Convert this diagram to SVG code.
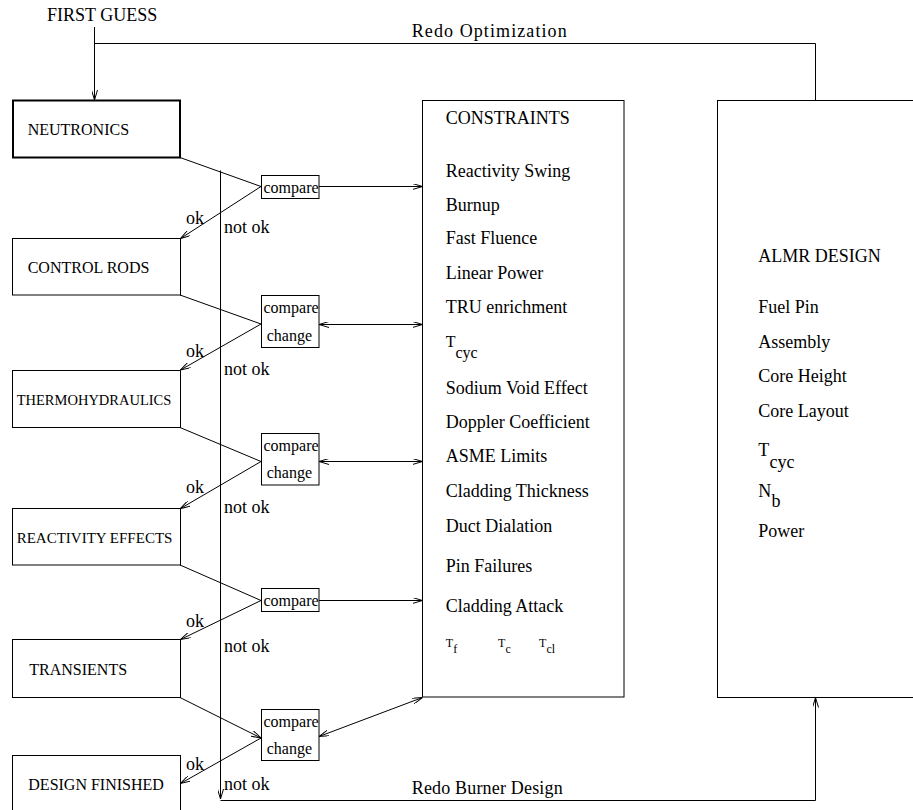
<svg xmlns="http://www.w3.org/2000/svg" width="913" height="810" viewBox="0 0 913 810" font-family="'Liberation Serif', 'Times New Roman', 'DejaVu Serif', serif">
<style>
text { font-family: "Liberation Serif", "Times New Roman", "DejaVu Serif", serif; fill: #000; }
.box { fill: #fff; stroke: #000; stroke-width: 1; }
.thick { stroke-width: 2; }
.big { font-size: 18px; }
.node { font-size: 16px; }
.cmp { font-size: 16px; }
.small { font-size: 12px; }
.ln { fill: none; stroke: #000; stroke-width: 1; }
.arr { marker-end: url(#ah); }
.dbl { marker-start: url(#ah); marker-end: url(#ah); }
</style>
<defs>
<marker id="ah" viewBox="0 0 10 6" refX="10" refY="3" markerWidth="10" markerHeight="6" markerUnits="userSpaceOnUse" orient="auto-start-reverse">
<path d="M0,0 L10,3 L0,6" fill="none" stroke="#000" stroke-width="1"/>
</marker>
</defs>
<rect width="913" height="810" fill="#fff"/>

<g id="connectors">
<path class="ln arr" d="M94.5,27 V100"/>
<path class="ln" d="M815.5,100.5 V43.5 H94.5"/>
<path class="ln arr" d="M220.5,170.5 V799"/>
<path class="ln arr" d="M220.5,800.5 H815.5 V697.5"/>
<path class="ln" d="M180,157.5 L261,186.5"/>
<path class="ln arr" d="M261,186.5 L180.5,238.5"/>
<path class="ln arr" d="M319,186.5 H422.5"/>
<path class="ln" d="M180,295 L261,324"/>
<path class="ln arr" d="M261,324 L180.5,370"/>
<path class="ln dbl" d="M319,324.5 H422.5"/>
<path class="ln" d="M180,427.5 L261,461.5"/>
<path class="ln arr" d="M261,461.5 L180.5,508.5"/>
<path class="ln dbl" d="M319,461.5 H422.5"/>
<path class="ln" d="M180,565 L261,600.5"/>
<path class="ln arr" d="M261,600.5 L180.5,639.5"/>
<path class="ln arr" d="M319,600.5 H422.5"/>
<path class="ln arr" d="M180,697.5 L261,738"/>
<path class="ln arr" d="M261,738 L180.5,783.5"/>
<path class="ln dbl" d="M319,736.5 L422.5,697.5"/>
<text class="big" x="47" y="21">FIRST GUESS</text>
<text class="big" x="411.7" y="36.7" textLength="155" lengthAdjust="spacing">Redo Optimization</text>
<text class="big" x="411.7" y="794" textLength="151" lengthAdjust="spacing">Redo Burner Design</text>
<text class="big" x="186" y="224">ok</text>
<text class="big" x="224" y="232.7">not ok</text>
<text class="big" x="186" y="356.7">ok</text>
<text class="big" x="224" y="375">not ok</text>
<text class="big" x="186" y="493">ok</text>
<text class="big" x="224" y="513">not ok</text>
<text class="big" x="186" y="627.3">ok</text>
<text class="big" x="224" y="651.7">not ok</text>
<text class="big" x="186" y="770">ok</text>
<text class="big" x="224" y="790">not ok</text>
</g>

<g id="neutronics">
<rect class="box thick" x="13" y="100.5" width="167" height="57"/>
<text class="node" x="27.7" y="135">NEUTRONICS</text>
</g>
<g id="control-rods">
<rect class="box" x="12.5" y="238.5" width="168" height="56.5"/>
<text class="node" x="27.7" y="272.7">CONTROL RODS</text>
</g>
<g id="thermohydraulics">
<rect class="box" x="12.5" y="370.5" width="168" height="57"/>
<text class="node" x="16.7" y="405" style="font-size:14.5px">THERMOHYDRAULICS</text>
</g>
<g id="reactivity-effects">
<rect class="box" x="12.5" y="508.5" width="168" height="56.5"/>
<text class="node" x="16.7" y="543" style="font-size:15px">REACTIVITY EFFECTS</text>
</g>
<g id="transients">
<rect class="box" x="12.5" y="639.5" width="168" height="58"/>
<text class="node" x="29.3" y="675">TRANSIENTS</text>
</g>
<g id="design-finished">
<rect class="box" x="12.5" y="755.5" width="168" height="70"/>
<text class="node" x="28.3" y="790">DESIGN FINISHED</text>
</g>

<g id="compare1">
<rect class="box" x="261.5" y="175.5" width="57.5" height="23"/>
<text class="cmp" x="263.5" y="193">compare</text>
</g>
<g id="compare2">
<rect class="box" x="261.5" y="295.5" width="57.5" height="52"/>
<text class="cmp" x="263.5" y="313.3">compare</text>
<text class="cmp" x="266.7" y="341">change</text>
</g>
<g id="compare3">
<rect class="box" x="261.5" y="433.5" width="57.5" height="51.5"/>
<text class="cmp" x="263.5" y="451">compare</text>
<text class="cmp" x="266.7" y="478">change</text>
</g>
<g id="compare4">
<rect class="box" x="261.5" y="588.5" width="57.5" height="23"/>
<text class="cmp" x="263.5" y="605.7">compare</text>
</g>
<g id="compare5">
<rect class="box" x="261.5" y="709.5" width="57.5" height="51"/>
<text class="cmp" x="263.5" y="726.7">compare</text>
<text class="cmp" x="266.7" y="754.3">change</text>
</g>

<g id="constraints">
<rect class="box" x="422.5" y="100.5" width="201.5" height="596.5"/>
<text class="big" x="445.7" y="124">CONSTRAINTS</text>
<text class="big" x="445.7" y="176.7">Reactivity Swing</text>
<text class="big" x="445.7" y="210.7">Burnup</text>
<text class="big" x="445.7" y="244">Fast Fluence</text>
<text class="big" x="445.7" y="279">Linear Power</text>
<text class="big" x="445.7" y="313">TRU enrichment</text>
<text class="node" x="445.7" y="347">T<tspan x="455.5" y="358">cyc</tspan></text>
<text class="big" x="445.7" y="394">Sodium Void Effect</text>
<text class="big" x="445.7" y="428">Doppler Coefficient</text>
<text class="big" x="445.7" y="461.7">ASME Limits</text>
<text class="big" x="445.7" y="497">Cladding Thickness</text>
<text class="big" x="445.7" y="531.7">Duct Dialation</text>
<text class="big" x="445.7" y="571.7">Pin Failures</text>
<text class="big" x="445.7" y="612">Cladding Attack</text>
<text class="small" x="445.7" y="646.7">T<tspan x="453.2" y="653.3">f</tspan><tspan x="498" y="646.7">T</tspan><tspan x="505.5" y="653.3">c</tspan><tspan x="539" y="646.7">T</tspan><tspan x="546.5" y="653.3">cl</tspan></text>
</g>

<g id="almr-design">
<rect class="box" x="717.5" y="100.5" width="220" height="597"/>
<text class="big" x="758.3" y="261.7">ALMR DESIGN</text>
<text class="big" x="758.3" y="312.7">Fuel Pin</text>
<text class="big" x="758.3" y="348.3">Assembly</text>
<text class="big" x="758.3" y="382.3">Core Height</text>
<text class="big" x="758.3" y="417.3">Core Layout</text>
<text class="big" x="758.3" y="456">T<tspan x="769.5" y="468.3">cyc</tspan></text>
<text class="big" x="758.3" y="497.3">N<tspan x="771.5" y="507.3">b</tspan></text>
<text class="big" x="758.3" y="536.7">Power</text>
</g>
</svg>
